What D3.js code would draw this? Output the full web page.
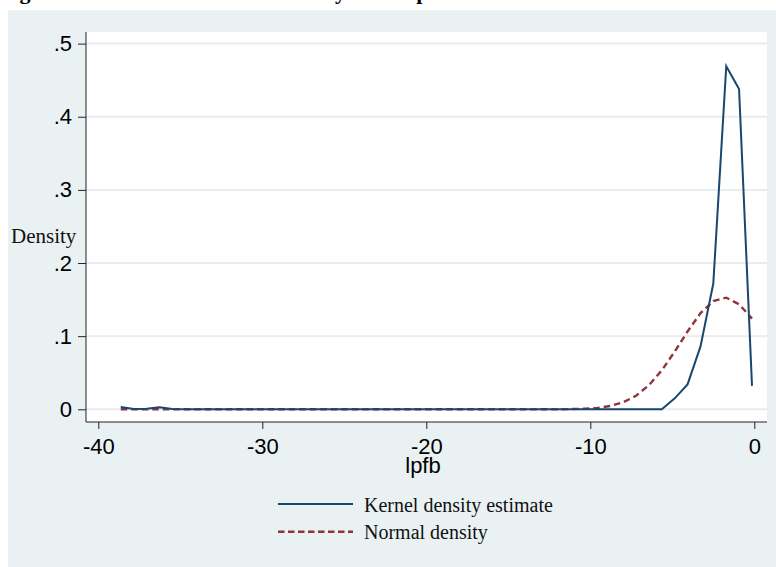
<!DOCTYPE html>
<html>
<head>
<meta charset="utf-8">
<script src="https://cdn.jsdelivr.net/npm/d3@7"></script>
<style>
  html, body { margin: 0; padding: 0; background: #ffffff; }
  svg { display: block; }
</style>
</head>
<body>
<svg id="chart" width="776" height="567"></svg>
<script>
// ---- data ----
const titleText = "Figure 4.2: Estimated Kernel density of the lpfb";
const xTitle = "lpfb";
const yTitle = "Density";
const xTicks = [-40, -30, -20, -10, 0];
const xTickLabels = ["-40", "-30", "-20", "-10", "0"];
const yTicks = [0, 0.1, 0.2, 0.3, 0.4, 0.5];
const yTickLabels = ["0", ".1", ".2", ".3", ".4", ".5"];
const seriesNames = ["Kernel density estimate", "Normal density"];

// evaluation points of lpfb
const xs = [-38.63, -37.84, -37.06, -36.27, -35.49, -34.70, -33.92, -33.13, -32.35, -31.56,
            -30.78, -29.99, -29.20, -28.42, -27.63, -26.85, -26.06, -25.28, -24.49, -23.71,
            -22.92, -22.13, -21.35, -20.56, -19.78, -18.99, -18.21, -17.42, -16.64, -15.85,
            -15.07, -14.28, -13.49, -12.71, -11.92, -11.14, -10.35, -9.57, -8.78, -8.00,
            -7.21, -6.42, -5.64, -4.85, -4.07, -3.28, -2.50, -1.71, -0.93, -0.14];

// kernel density estimate
const kdensity = [0.003, 0.0003, 0.0008, 0.0027, 0.0004, 0, 0, 0, 0, 0,
                  0, 0, 0, 0, 0, 0, 0, 0, 0, 0,
                  0, 0, 0, 0, 0, 0, 0, 0, 0, 0,
                  0, 0, 0, 0, 0, 0, 0, 0, 0, 0,
                  0, 0, 0, 0.015, 0.034, 0.086, 0.172, 0.469, 0.438, 0.032];

// normal density overlay
const ndensity = [0, 0, 0, 0, 0, 0, 0, 0, 0, 0,
                  0, 0, 0, 0, 0, 0, 0, 0, 0, 0,
                  0, 0, 0, 0, 0, 0, 0, 0, 0, 0,
                  0, 0, 0, 0, 0.0001, 0.0003, 0.0008, 0.0019, 0.0045, 0.0095,
                  0.0185, 0.033, 0.0533, 0.079, 0.1064, 0.1315, 0.1481, 0.1526, 0.1436, 0.1240];

// ---- drawing ----
const svg = d3.select("#chart");
const W = 776, H = 567;
const plot = { left: 86, right: 767, top: 32, bottom: 422 };

const x = d3.scaleLinear().domain([-40, 0]).range([98.3, 754.3]);
const y = d3.scaleLinear().domain([0, 0.5]).range([409.3, 43.6]);

const sans = "'Liberation Sans', Arial, sans-serif";
const serif = "'Liberation Serif', 'Times New Roman', serif";

// title (mostly cut off at top)
svg.append("text")
  .attr("x", 0).attr("y", -1.5)
  .attr("font-family", serif).attr("font-weight", "bold").attr("font-size", 22)
  .attr("fill", "#000")
  .text(titleText);

// graph region
svg.append("rect").attr("x", 8).attr("y", 10).attr("width", W - 8).attr("height", H - 10)
  .attr("fill", "#eaf1f3");

// plot region
svg.append("rect").attr("x", plot.left).attr("y", plot.top)
  .attr("width", plot.right - plot.left).attr("height", plot.bottom - plot.top)
  .attr("fill", "#ffffff");

// gridlines
svg.append("g").selectAll("line").data(yTicks).join("line")
  .attr("x1", plot.left).attr("x2", plot.right)
  .attr("y1", d => y(d)).attr("y2", d => y(d))
  .attr("stroke", "#e6eef1").attr("stroke-width", 2);

// y axis
const yAxis = d3.axisLeft(y).tickValues(yTicks).tickSize(8).tickPadding(6)
  .tickFormat((d, i) => yTickLabels[i]);
const gy = svg.append("g").attr("transform", `translate(${plot.left},0)`).call(yAxis);
gy.select(".domain").remove();
gy.selectAll(".tick line").attr("stroke", "#222");
gy.selectAll(".tick text").attr("font-family", sans).attr("font-size", 22).attr("fill", "#000");

// x axis
const xAxis = d3.axisBottom(x).tickValues(xTicks).tickSize(7).tickPadding(9)
  .tickFormat((d, i) => xTickLabels[i]);
const gx = svg.append("g").attr("transform", `translate(0,${plot.bottom})`).call(xAxis);
gx.select(".domain").remove();
gx.selectAll(".tick line").attr("stroke", "#222");
gx.selectAll(".tick text").attr("font-family", sans).attr("font-size", 22).attr("fill", "#000")
  .attr("dy", "0.72em");

// axis lines
svg.append("line").attr("x1", plot.left).attr("x2", plot.left)
  .attr("y1", plot.top).attr("y2", plot.bottom).attr("stroke", "#222").attr("stroke-width", 1);
svg.append("line").attr("x1", plot.left).attr("x2", plot.right)
  .attr("y1", plot.bottom).attr("y2", plot.bottom).attr("stroke", "#222").attr("stroke-width", 1);

// axis titles
svg.append("text").attr("x", 11).attr("y", 243)
  .attr("font-family", serif).attr("font-size", 21).attr("fill", "#111").text(yTitle);
svg.append("text").attr("x", 423).attr("y", 473).attr("text-anchor", "middle")
  .attr("font-family", sans).attr("font-size", 22).attr("fill", "#000").text(xTitle);

// lines
const pts1 = xs.map((v, i) => [v, kdensity[i]]);
const pts2 = xs.map((v, i) => [v, ndensity[i]]);
const line = d3.line().x(d => x(d[0])).y(d => y(d[1]));

svg.append("path").datum(pts2).attr("d", line)
  .attr("fill", "none").attr("stroke", "#90353b").attr("stroke-width", 2.4)
  .attr("stroke-dasharray", "6.5,4");
svg.append("path").datum(pts1).attr("d", line)
  .attr("fill", "none").attr("stroke", "#1a476f").attr("stroke-width", 2)
  .attr("stroke-linejoin", "miter");

// legend
const legend = svg.append("g");
const legItems = [
  { name: seriesNames[0], color: "#1a476f", dash: null, y: 504, ty: 511.5, w: 2 },
  { name: seriesNames[1], color: "#90353b", dash: "6.5,3.5", y: 531.7, ty: 539, w: 2.4 }
];
legItems.forEach(it => {
  legend.append("line").attr("x1", 278).attr("x2", 353).attr("y1", it.y).attr("y2", it.y)
    .attr("stroke", it.color).attr("stroke-width", it.w)
    .attr("stroke-dasharray", it.dash);
  legend.append("text").attr("x", 364).attr("y", it.ty)
    .attr("font-family", serif).attr("font-size", 20).attr("fill", "#111").text(it.name);
});
</script>
</body>
</html>
